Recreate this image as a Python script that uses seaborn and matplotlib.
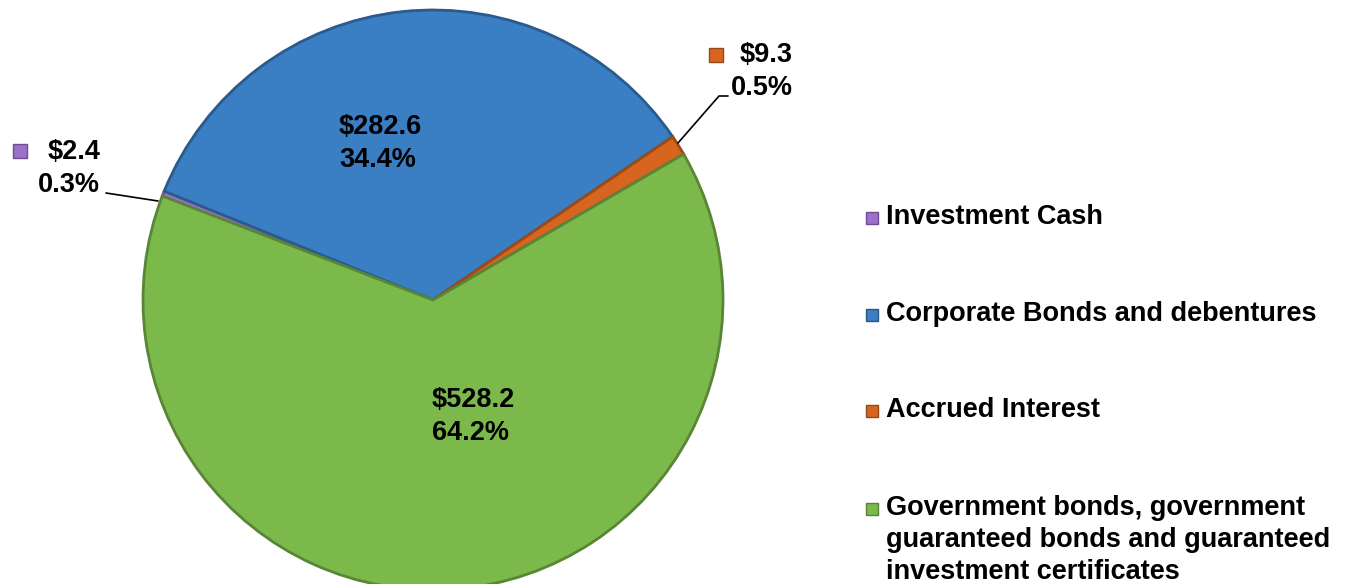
import matplotlib.pyplot as plt
import seaborn as sns
from matplotlib.colors import to_rgb

# data
categories = [
    "Investment Cash",
    "Corporate Bonds and debentures",
    "Accrued Interest",
    "Government bonds, government\nguaranteed bonds and guaranteed\ninvestment certificates",
]
amounts = [2.4, 282.6, 9.3, 528.2]
amount_labels = ["$2.4", "$282.6", "$9.3", "$528.2"]
percent_labels = ["0.3%", "34.4%", "0.5%", "64.2%"]
colors = ["#9d70cc", "#3a7ec3", "#d8651f", "#7cb94b"]

sns.set_theme(style="white")
plt.rcParams["font.family"] = ["Liberation Sans", "DejaVu Sans"]
plt.rcParams["font.weight"] = "bold"

W, H = 1348, 584
fig = plt.figure(figsize=(W / 100, H / 100), dpi=100)
ax = fig.add_axes([0, 0, 1, 1])


def shade(c, f):
    return tuple(min(1, v * f) for v in to_rgb(c))


# pie in pixel coordinates (y measured from the bottom)
cx, cy, r = 433, H - 300, 290
wedges, _ = ax.pie(amounts, colors=colors, startangle=159, counterclock=False,
                   center=(cx, cy), radius=r, frame=True,
                   wedgeprops=dict(linewidth=2))
for w, c in zip(wedges, colors):
    w.set_edgecolor(shade(c, 0.72))

ax.set_xlim(0, W)
ax.set_ylim(0, H)
ax.set_axis_off()

fs = 19.5
txt = dict(fontsize=fs, fontweight="bold", color="black", va="top")

# labels inside the big slices
ax.text(339, H - 114, f"{amount_labels[1]}\n{percent_labels[1]}", ha="left",
        linespacing=1.35, **txt)
ax.text(432, H - 387, f"{amount_labels[3]}\n{percent_labels[3]}", ha="left",
        linespacing=1.35, **txt)

# outside labels for the small slices, with a key square and leader line
ax.text(100, H - 139, f"{amount_labels[0]}\n{percent_labels[0]}", ha="right",
        multialignment="right", linespacing=1.35, **txt)
ax.plot([20], [H - 151], marker="s", markersize=10.5, color=colors[0],
        markeredgecolor=shade(colors[0], 0.7), linestyle="none")
ax.plot([106, 158], [H - 193, H - 201], color="black", linewidth=1.2)

ax.text(793, H - 42, f"{amount_labels[2]}\n{percent_labels[2]}", ha="right",
        multialignment="right", linespacing=1.35, **txt)
ax.plot([716], [H - 55], marker="s", markersize=10.5, color=colors[2],
        markeredgecolor=shade(colors[2], 0.7), linestyle="none")
ax.plot([728, 719, 678], [H - 96, H - 96, H - 143], color="black", linewidth=1.2)

# legend on the right
legend_tops = [204, 301, 397, 495]
for cat, c, top in zip(categories, colors, legend_tops):
    ax.plot([872], [H - top - 14], marker="s", markersize=8.5, color=c,
            markeredgecolor=shade(c, 0.7), linestyle="none")
    ax.text(886, H - top, cat, ha="left", linespacing=1.3, **txt)

fig.savefig("out.png", dpi=100, facecolor="white")
